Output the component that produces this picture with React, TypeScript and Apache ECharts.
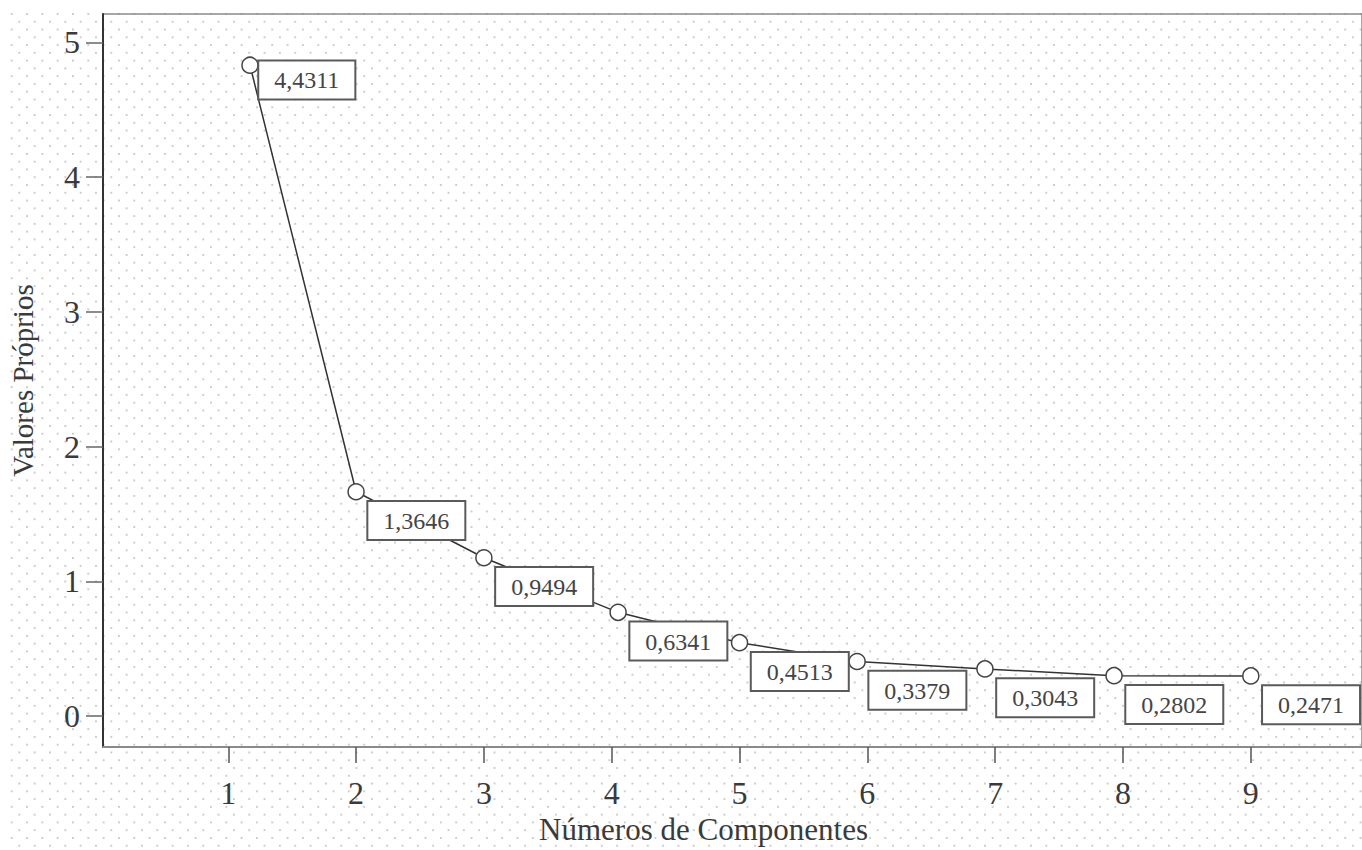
import React, { useEffect, useRef } from "react";
import * as echarts from "echarts";

const componentNumbers = [1.17, 2.0, 3.0, 4.05, 5.0, 5.92, 6.92, 7.93, 9.0];
const eigenValues = [4.83, 1.665, 1.175, 0.77, 0.545, 0.405, 0.35, 0.3, 0.298];
const valueLabels = ["4,4311", "1,3646", "0,9494", "0,6341", "0,4513", "0,3379", "0,3043", "0,2802", "0,2471"];
const xTicks = [1, 2, 3, 4, 5, 6, 7, 8, 9];
const yTicks = [0, 1, 2, 3, 4, 5];

const FONT = "'Liberation Serif', 'DejaVu Serif', serif";

export default function App() {
  const ref = useRef<HTMLDivElement>(null);

  useEffect(() => {
    if (!ref.current) return;
    const chart = echarts.init(ref.current, null, { renderer: "svg" });
    const data = componentNumbers.map((x, i) => ({
      value: [x, eigenValues[i]],
      label: { position: i === 0 ? [18, 5] : [21, 19] },
    }));
    chart.setOption({
      animation: false,
      backgroundColor: "transparent",
      grid: {
        left: 100,
        top: 14,
        right: -3,
        bottom: 102,
        show: true,
        borderColor: "#8a8a8a",
        borderWidth: 1.5,
        backgroundColor: "transparent",
      },
      xAxis: {
        type: "value",
        min: 0.02,
        max: 9.87,
        name: "Números de Componentes",
        nameLocation: "middle",
        nameGap: 66,
        nameTextStyle: {
          fontFamily: FONT,
          fontSize: 31,
          color: "#3a3a3a",
          padding: [0, 58, 0, 0],
        },
        splitLine: { show: false },
        axisLine: { show: true, onZero: false, lineStyle: { color: "#8a8a8a", width: 2 } },
        axisTick: {
          show: true,
          length: 16,
          customValues: xTicks,
          lineStyle: { color: "#555", width: 1.5 },
        },
        axisLabel: {
          customValues: xTicks,
          margin: 30,
          fontFamily: FONT,
          fontSize: 32,
          color: "#3a3a3a",
        },
      },
      yAxis: {
        type: "value",
        min: -0.23,
        max: 5.21,
        name: "Valores Próprios",
        nameLocation: "middle",
        nameGap: 66,
        nameTextStyle: {
          fontFamily: FONT,
          fontSize: 29,
          color: "#3a3a3a",
        },
        splitLine: { show: false },
        axisLine: { show: true, onZero: false, lineStyle: { color: "#333", width: 2 } },
        axisTick: {
          show: true,
          length: 17,
          customValues: yTicks,
          lineStyle: { color: "#666", width: 1.5 },
        },
        axisLabel: {
          customValues: yTicks,
          margin: 23,
          fontFamily: FONT,
          fontSize: 32,
          color: "#3a3a3a",
        },
      },
      series: [
        {
          type: "line",
          data,
          symbol: "circle",
          symbolSize: 16,
          lineStyle: { color: "#333", width: 1.5 },
          itemStyle: { color: "#ffffff", borderColor: "#444", borderWidth: 1.5 },
          z: 2,
          label: {
            show: true,
            formatter: (p: any) => valueLabels[p.dataIndex],
            align: "left",
            verticalAlign: "top",
            fontFamily: FONT,
            fontSize: 24,
            lineHeight: 24,
            color: "#444",
            backgroundColor: "#ffffff",
            borderColor: "#5a5a5a",
            borderWidth: 2,
            padding: [7, 15, 6, 15],
          },
        },
      ],
    });
    return () => chart.dispose();
  }, []);

  return (
    <div style={{ position: "fixed", left: 0, top: 0, width: 1362, height: 850, background: "#fff" }}>
      <div
        style={{
          position: "absolute",
          left: 8,
          top: 10,
          right: 0,
          bottom: 0,
          backgroundImage:
            "radial-gradient(circle, #b8b8b8 0, #c4c4c4 0.6px, rgba(255,255,255,0) 1.2px), radial-gradient(circle, #b8b8b8 0, #c4c4c4 0.6px, rgba(255,255,255,0) 1.2px)",
          backgroundSize: "15.33px 15.56px, 15.33px 15.56px",
          backgroundPosition: "-4px -3.8px, 3.67px 3.98px",
        }}
      />
      <div ref={ref} style={{ position: "absolute", left: 0, top: 0, width: 1362, height: 850 }} />
    </div>
  );
}
